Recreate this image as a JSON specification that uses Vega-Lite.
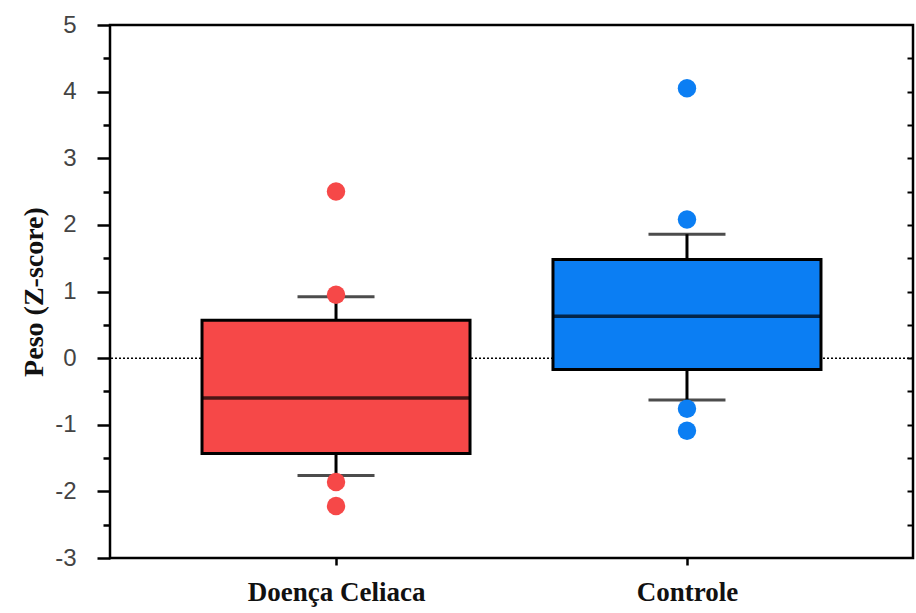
{
  "$schema": "https://vega.github.io/schema/vega-lite/v6.json",
  "width": 803,
  "height": 533,
  "autosize": {"type": "none"},
  "padding": {"left": 110, "top": 25, "right": 3, "bottom": 55},
  "background": "white",
  "config": {
    "view": {"stroke": "black", "strokeWidth": 2.5},
    "axisX": {
      "title": null,
      "domain": false,
      "grid": false,
      "tickSize": 7,
      "tickWidth": 2.5,
      "tickColor": "black",
      "labelFont": "Liberation Serif",
      "labelFontWeight": "bold",
      "labelFontSize": 27,
      "labelColor": "#111",
      "labelPadding": 14,
      "labelLimit": 0,
      "labelAngle": 0
    }
  },
  "datasets": {
    "boxes": [
      {"group": "Doença Celiaca", "q1": -1.43, "median": -0.6, "q3": 0.57, "lo": -1.76, "hi": 0.92},
      {"group": "Controle", "q1": -0.17, "median": 0.63, "q3": 1.48, "lo": -0.63, "hi": 1.86}
    ],
    "points": [
      {"group": "Doença Celiaca", "value": 2.5},
      {"group": "Doença Celiaca", "value": 0.95},
      {"group": "Doença Celiaca", "value": -1.86},
      {"group": "Doença Celiaca", "value": -2.22},
      {"group": "Controle", "value": 4.05},
      {"group": "Controle", "value": 2.08},
      {"group": "Controle", "value": -0.76},
      {"group": "Controle", "value": -1.09}
    ],
    "zero": [{"z": 0}]
  },
  "layer": [
    {
      "data": {"name": "zero"},
      "mark": {"type": "rule", "strokeDash": [2, 2], "strokeWidth": 1.5, "color": "black"},
      "encoding": {
        "y": {
          "field": "z", "type": "quantitative",
          "scale": {"domain": [-3, 5], "nice": false, "zero": false},
          "axis": {
            "orient": "left",
            "values": [-3, -2, -1, 0, 1, 2, 3, 4, 5],
            "labelExpr": "toString(datum.value)",
            "domain": false, "grid": false,
            "tickSize": 13, "tickWidth": 2.5, "tickColor": "black",
            "labelFont": "Liberation Sans", "labelFontSize": 24, "labelColor": "#444",
            "labelPadding": 21,
            "title": "Peso (Z-score)",
            "titleFont": "Liberation Serif", "titleFontWeight": "bold", "titleFontSize": 28,
            "titleColor": "#111", "titlePadding": 6
          }
        }
      }
    },
    {
      "data": {"name": "boxes"},
      "mark": {"type": "rule", "strokeWidth": 3, "color": "black"},
      "encoding": {
        "x": {"field": "group", "type": "nominal", "sort": ["Doença Celiaca", "Controle"],
              "scale": {"type": "point", "padding": 0.644}},
        "y": {
          "field": "lo", "type": "quantitative",
          "axis": {
            "orient": "left",
            "values": [-2.5, -1.5, -0.5, 0.5, 1.5, 2.5, 3.5, 4.5],
            "labels": false, "domain": false, "grid": false, "title": null,
            "tickSize": 7, "tickWidth": 2.5, "tickColor": "black"
          }
        },
        "y2": {"field": "hi"}
      }
    },
    {
      "data": {"name": "boxes"},
      "mark": {"type": "tick", "size": 77, "thickness": 3, "color": "black"},
      "encoding": {
        "x": {"field": "group", "type": "nominal", "sort": ["Doença Celiaca", "Controle"]},
        "y": {
          "field": "hi", "type": "quantitative",
          "axis": {
            "orient": "right",
            "values": [-2.5, -2, -1.5, -1, -0.5, 0, 0.5, 1, 1.5, 2, 2.5, 3, 3.5, 4, 4.5],
            "labels": false, "domain": false, "grid": false, "title": null,
            "offset": -6, "tickSize": 6, "tickWidth": 2, "tickColor": "black"
          }
        }
      }
    },
    {
      "data": {"name": "boxes"},
      "mark": {"type": "tick", "size": 77, "thickness": 3, "color": "black"},
      "encoding": {
        "x": {"field": "group", "type": "nominal", "sort": ["Doença Celiaca", "Controle"]},
        "y": {"field": "lo", "type": "quantitative", "axis": null}
      }
    },
    {
      "data": {"name": "boxes"},
      "mark": {"type": "bar", "width": 268, "stroke": "black", "strokeWidth": 3},
      "encoding": {
        "x": {"field": "group", "type": "nominal", "sort": ["Doença Celiaca", "Controle"]},
        "y": {"field": "q1", "type": "quantitative", "axis": null},
        "y2": {"field": "q3"},
        "fill": {
          "field": "group", "type": "nominal",
          "scale": {"domain": ["Doença Celiaca", "Controle"], "range": ["#F64848", "#0B7EF3"]},
          "legend": null
        }
      }
    },
    {
      "data": {"name": "boxes"},
      "mark": {"type": "tick", "size": 268, "thickness": 3.5, "color": "black"},
      "encoding": {
        "x": {"field": "group", "type": "nominal", "sort": ["Doença Celiaca", "Controle"]},
        "y": {"field": "median", "type": "quantitative", "axis": null}
      }
    },
    {
      "data": {"name": "points"},
      "mark": {"type": "circle", "size": 340, "opacity": 1},
      "encoding": {
        "x": {"field": "group", "type": "nominal", "sort": ["Doença Celiaca", "Controle"]},
        "y": {"field": "value", "type": "quantitative", "axis": null},
        "color": {
          "field": "group", "type": "nominal",
          "scale": {"domain": ["Doença Celiaca", "Controle"], "range": ["#F64848", "#0B7EF3"]},
          "legend": null
        }
      }
    }
  ],
  "resolve": {"axis": {"y": "independent"}}
}
